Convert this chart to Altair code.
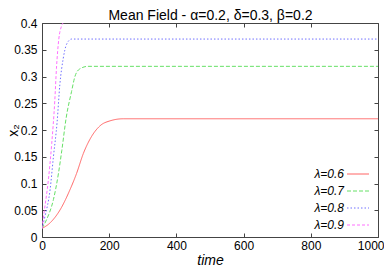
import altair as alt
import pandas as pd

# values
labels = ["λ=0.6", "λ=0.7", "λ=0.8", "λ=0.9"]
t_06 = [0, 25, 55, 83, 103, 123, 143, 173, 202, 242, 1000]
v_06 = [0.016, 0.027, 0.052, 0.088, 0.119, 0.156, 0.183, 0.208, 0.217, 0.221, 0.221]
t_07 = [0, 14, 34, 49, 59, 72, 88, 98, 112, 137, 1000]
v_07 = [0.016, 0.033, 0.070, 0.119, 0.162, 0.223, 0.272, 0.300, 0.314, 0.319, 0.319]
t_08 = [0, 9, 24, 34, 45, 53, 63, 73, 88, 1000]
v_08 = [0.016, 0.039, 0.088, 0.150, 0.215, 0.284, 0.333, 0.360, 0.370, 0.370]
t_09 = [0, 6, 19, 29, 38, 43, 50, 58, 67, 80, 1000]
v_09 = [0.016, 0.045, 0.107, 0.175, 0.254, 0.315, 0.370, 0.394, 0.403, 0.410, 0.410]
x_ticks = [0, 200, 400, 600, 800, 1000]
y_ticks = [0, 0.05, 0.1, 0.15, 0.2, 0.25, 0.3, 0.35, 0.4]
title_text = "Mean Field - α=0.2, δ=0.3, β=0.2"

colors = ["#ff6464", "#66e066", "#7070ff", "#ff70ff"]
dashes = [[1, 0], [4, 2], [1.5, 2], [3, 2]]

rows = []
for lab, ts, vs in zip(labels, [t_06, t_07, t_08, t_09], [v_06, v_07, v_08, v_09]):
    for t, v in zip(ts, vs):
        rows.append({"time": t, "x2": v, "series": lab})
df = pd.DataFrame(rows)

font = "Liberation Sans"
xs = alt.Scale(domain=[0, 1000], nice=False)
ys = alt.Scale(domain=[0, 0.4], nice=False)

base = alt.Chart(df)

lines = base.mark_line(strokeWidth=1, interpolate="monotone", clip=True).encode(
    x=alt.X("time:Q", scale=xs,
            axis=alt.Axis(orient="bottom", values=x_ticks, format="d", title="time",
                          titleFontStyle="italic", titleFontWeight="normal",
                          titleFontSize=14, titlePadding=2, offset=-4, tickSize=4,
                          domain=False, labelPadding=3,
                          labelAlign={"expr": "datum.value == 1000 ? 'right' : 'center'"},
                          labelOffset={"expr": "datum.value == 1000 ? 6 : 0"})),
    y=alt.Y("x2:Q", scale=ys,
            axis=alt.Axis(orient="left", values=y_ticks, format="~g", title="x₂",
                          titleFontWeight="normal", titleFontSize=14, titlePadding=-7,
                          offset=-4, tickSize=4, domain=False, labelPadding=5)),
    color=alt.Color("series:N", scale=alt.Scale(domain=labels, range=colors),
                    legend=alt.Legend(title=None, orient="none",
                                      legendX=310, legendY=145,
                                      symbolType="M-2,0H2", symbolSize=121,
                                      symbolStrokeWidth=1,
                                      labelFontStyle="italic", labelFontSize=12,
                                      labelAlign="right",
                                      labelOffset={"expr": "-20"},
                                      rowPadding=5)),
    strokeDash=alt.StrokeDash("series:N", scale=alt.Scale(domain=labels, range=dashes),
                              legend=None),
)

frame_ticks = base.mark_line(strokeOpacity=0).encode(
    x=alt.X("time:Q", scale=xs,
            axis=alt.Axis(orient="top", values=x_ticks, labels=False, title=title_text,
                          titleFontSize=14, titleFontWeight="normal", titlePadding=0.5,
                          offset=-4, tickSize=4, domain=False)),
    y=alt.Y("x2:Q", scale=ys,
            axis=alt.Axis(orient="right", values=y_ticks, labels=False, title=None,
                          offset=-4, tickSize=4, domain=False)),
    detail="series:N",
)

chart = alt.layer(lines, frame_ticks).resolve_axis(
    x="independent", y="independent"
).properties(
    width=336, height=214,
    autosize=alt.AutoSizeParams(type="none"),
    padding={"left": 34, "top": 15, "right": 6, "bottom": 29},
).configure_axis(
    labelFont=font, titleFont=font, labelFontSize=12, labelColor="black",
    titleColor="black", tickColor="#444", grid=False,
).configure_legend(
    labelFont=font, labelColor="black",
).configure_view(stroke="#444", strokeWidth=1)

chart.save("out.html", embed_options={"renderer": "svg", "actions": False})
